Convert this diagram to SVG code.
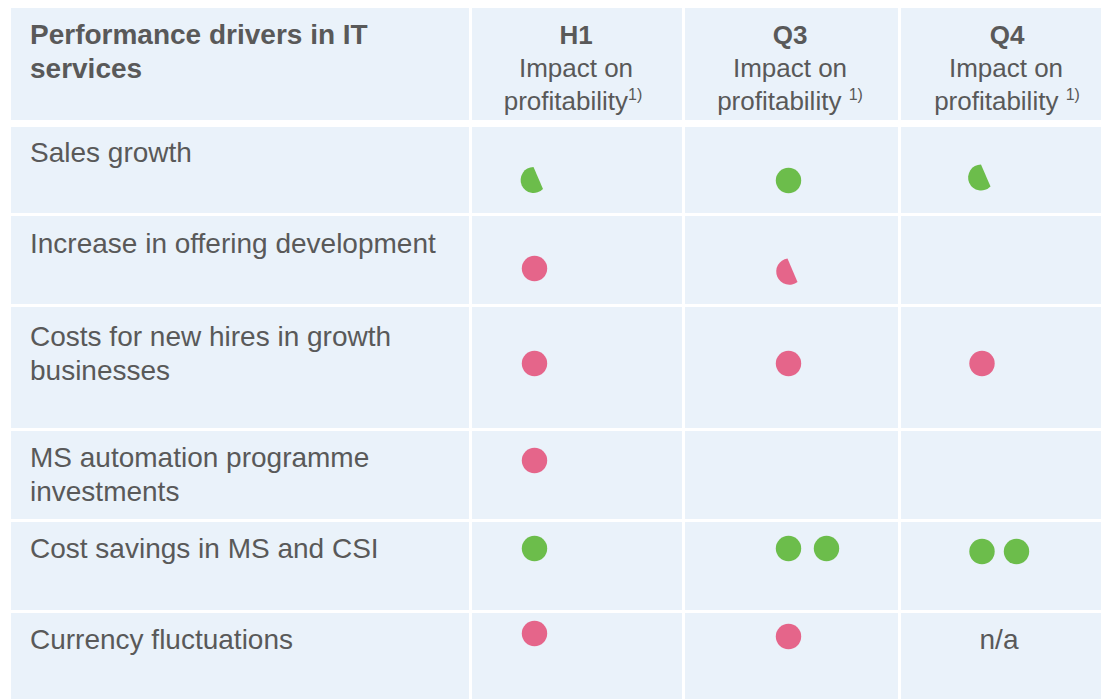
<svg xmlns="http://www.w3.org/2000/svg" width="1101" height="699" viewBox="0 0 1101 699">
<style>
.cell{fill:#EAF2FA}
.t{font-family:"Liberation Sans",Arial,sans-serif;fill:#595959}
.body{font-size:28px}
.hb{font-size:28px;font-weight:bold}
.hc{font-size:26px;font-weight:bold}
.hs{font-size:26px}
.sup{font-size:16px}
.g{fill:#6CBD4B}
.p{fill:#E5658A}
</style>
<rect width="1101" height="699" fill="#FFFFFF"/>
<g id="grid">
<rect class="cell" x="11" y="8" width="458" height="112"/>
<rect class="cell" x="472" y="8" width="210" height="112"/>
<rect class="cell" x="685" y="8" width="213" height="112"/>
<rect class="cell" x="901" y="8" width="200" height="112"/>
<rect class="cell" x="11" y="127" width="458" height="86"/>
<rect class="cell" x="472" y="127" width="210" height="86"/>
<rect class="cell" x="685" y="127" width="213" height="86"/>
<rect class="cell" x="901" y="127" width="200" height="86"/>
<rect class="cell" x="11" y="216" width="458" height="88"/>
<rect class="cell" x="472" y="216" width="210" height="88"/>
<rect class="cell" x="685" y="216" width="213" height="88"/>
<rect class="cell" x="901" y="216" width="200" height="88"/>
<rect class="cell" x="11" y="307" width="458" height="121"/>
<rect class="cell" x="472" y="307" width="210" height="121"/>
<rect class="cell" x="685" y="307" width="213" height="121"/>
<rect class="cell" x="901" y="307" width="200" height="121"/>
<rect class="cell" x="11" y="431" width="458" height="88"/>
<rect class="cell" x="472" y="431" width="210" height="88"/>
<rect class="cell" x="685" y="431" width="213" height="88"/>
<rect class="cell" x="901" y="431" width="200" height="88"/>
<rect class="cell" x="11" y="522" width="458" height="88"/>
<rect class="cell" x="472" y="522" width="210" height="88"/>
<rect class="cell" x="685" y="522" width="213" height="88"/>
<rect class="cell" x="901" y="522" width="200" height="88"/>
<rect class="cell" x="11" y="613" width="458" height="86"/>
<rect class="cell" x="472" y="613" width="210" height="86"/>
<rect class="cell" x="685" y="613" width="213" height="86"/>
<rect class="cell" x="901" y="613" width="200" height="86"/>
</g>
<g id="header">
<text class="t hb" x="30" y="44">Performance drivers in IT</text>
<text class="t hb" x="30" y="78">services</text>
<text class="t hc" x="576" y="44" text-anchor="middle">H1</text>
<text class="t hs" x="576" y="77" text-anchor="middle">Impact on</text>
<text class="t hs" x="573" y="110" text-anchor="middle">profitability<tspan class="sup" dy="-10">1)</tspan></text>
<text class="t hc" x="790" y="44" text-anchor="middle">Q3</text>
<text class="t hs" x="790" y="77" text-anchor="middle">Impact on</text>
<text class="t hs" x="790" y="110" text-anchor="middle">profitability <tspan class="sup" dy="-10">1)</tspan></text>
<text class="t hc" x="1007" y="44" text-anchor="middle">Q4</text>
<text class="t hs" x="1006" y="77" text-anchor="middle">Impact on</text>
<text class="t hs" x="1007" y="110" text-anchor="middle">profitability <tspan class="sup" dy="-10">1)</tspan></text>
</g>
<g id="row-sales">
<text class="t body" x="30" y="162">Sales growth</text>
<path class="g" d="M533.5 167 A13 13 0 1 0 543 189 Z"/>
<circle class="g" cx="788.5" cy="180.5" r="12.7"/>
<path class="g" d="M981 164.5 A13 13 0 1 0 990.5 186.5 Z"/>
</g>
<g id="row-offering">
<text class="t body" x="30" y="253">Increase in offering development</text>
<circle class="p" cx="534.5" cy="268.5" r="12.7"/>
<path class="p" d="M787.5 258.5 A13.2 13.2 0 1 0 797.5 282 Z"/>
</g>
<g id="row-hires">
<text class="t body" x="30" y="346">Costs for new hires in growth</text>
<text class="t body" x="30" y="380">businesses</text>
<circle class="p" cx="534.5" cy="363.5" r="12.7"/>
<circle class="p" cx="788.5" cy="363.5" r="12.7"/>
<circle class="p" cx="982" cy="363.5" r="12.7"/>
</g>
<g id="row-ms">
<text class="t body" x="30" y="467">MS automation programme</text>
<text class="t body" x="30" y="501">investments</text>
<circle class="p" cx="534.5" cy="460.5" r="12.7"/>
</g>
<g id="row-savings">
<text class="t body" x="30" y="558">Cost savings in MS and CSI</text>
<circle class="g" cx="534.5" cy="548.5" r="12.7"/>
<circle class="g" cx="788.5" cy="548.5" r="12.7"/>
<circle class="g" cx="826.5" cy="548.5" r="12.7"/>
<circle class="g" cx="982" cy="551.5" r="12.7"/>
<circle class="g" cx="1016.5" cy="551.5" r="12.7"/>
</g>
<g id="row-currency">
<text class="t body" x="30" y="649">Currency fluctuations</text>
<circle class="p" cx="534.5" cy="633.5" r="12.7"/>
<circle class="p" cx="788.5" cy="636.5" r="12.7"/>
<text class="t body" x="999" y="649" text-anchor="middle">n/a</text>
</g>
<g id="connectors"/>
</svg>
